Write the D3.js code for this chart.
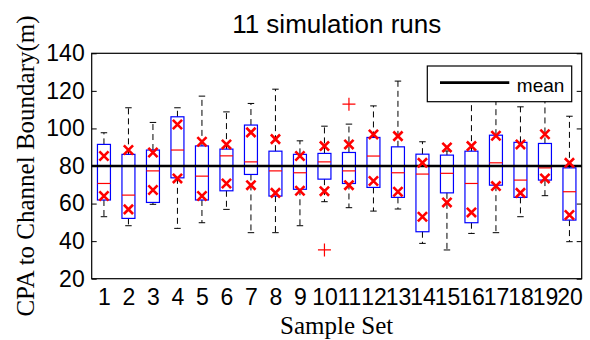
<!DOCTYPE html>
<html>
<head>
<meta charset="utf-8">
<script src="https://cdn.jsdelivr.net/npm/d3@7"></script>
<style>
  body { margin: 0; background: #fff; }
  svg { display: block; }
</style>
</head>
<body>
<div id="chart"></div>
<script>
// sample sets 1..20
var runs = ["1","2","3","4","5","6","7","8","9","10","11","12","13","14","15","16","17","18","19","20"];
var whiskerHi = [97.7, 111, 103.2, 111, 117.2, 108.8, 113.3, 120.9, 93.4, 101.2, 102.3, 112, 125.2, 92.9, 88, 120, 118, 111.5, 116, 106.5];
var q3 = [91.5, 86.2, 88.5, 106.2, 90.7, 89, 101.8, 87.9, 86.2, 86.7, 87.2, 95.2, 90.2, 86.3, 85.8, 87.9, 96.4, 92.6, 92, 79];
var medians = [70.7, 64.5, 77.4, 88.5, 74.6, 85.4, 82.2, 77.4, 76.4, 82.2, 77.4, 85.3, 76.4, 75.7, 76.1, 70.7, 81.7, 72.5, 79, 66.3];
var q1 = [61.9, 52.1, 60.6, 73.7, 61.9, 66.8, 75.5, 64, 67.6, 73, 70.7, 68.6, 63.3, 45, 65.7, 49.8, 69.8, 63.3, 72.5, 51.2];
var whiskerLo = [53, 48.2, 59.6, 46.8, 49.8, 56.9, 44.5, 44.5, 48.2, 61, 57.8, 56, 57.1, 38.8, 35.3, 44.1, 44.5, 53, 64.2, 39.7];
// red x markers above / below
var markHi = [85.3, 88.5, 87.2, 102.1, 92.9, 91.5, 97.9, 94.3, 85.3, 90.6, 91.5, 96.8, 95.9, 81.7, 89.9, 90.6, 96.1, 91.5, 96.9, 81.7];
var markLo = [64, 56.9, 67.2, 73.4, 64, 70.7, 69.8, 65.7, 66.8, 66.6, 69.8, 72, 66.3, 53, 60.6, 55.3, 69.3, 65.7, 73.4, 53.9];
var outlierRun = [10, 11];
var outlierValue = [35.3, 112.9];
var meanValue = 80;
var yTicks = [20, 40, 60, 80, 100, 120, 140];

var width = 590, height = 340;
var margin = {top: 53.3, right: 8.3, bottom: 61.3, left: 91.7};

var svg = d3.select('#chart').append('svg').attr('width', width).attr('height', height);

var x = d3.scaleLinear().domain([0.5, 20.5]).range([margin.left, width - margin.right]);
var y = d3.scaleLinear().domain([20, 140]).range([height - margin.bottom, margin.top]);

var sans = "'Liberation Sans', Arial, sans-serif";
var serif = "'Liberation Serif', 'Times New Roman', serif";

// axes
var gl = svg.append('g').attr('transform', 'translate(' + margin.left + ',0)')
  .call(d3.axisLeft(y).tickValues(yTicks).tickSize(-5).tickPadding(7));
var gr = svg.append('g').attr('transform', 'translate(' + (width - margin.right) + ',0)')
  .call(d3.axisRight(y).tickValues(yTicks).tickSize(-5).tickFormat(''));
var gb = svg.append('g').attr('transform', 'translate(0,' + (height - margin.bottom) + ')')
  .call(d3.axisBottom(x).tickValues(d3.range(1, 21)).tickSize(0).tickPadding(10).tickFormat(function(d){ return runs[d-1]; }));
[gl, gr, gb].forEach(function(g){
  g.select('.domain').remove();
  g.selectAll('line').attr('stroke', '#000');
  g.selectAll('text').attr('fill', '#000').style('font-family', sans).style('font-size', '23px');
});
gr.selectAll('text').remove();

// frame
svg.append('rect')
  .attr('x', margin.left).attr('y', margin.top)
  .attr('width', width - margin.left - margin.right)
  .attr('height', height - margin.top - margin.bottom)
  .attr('fill', 'none').attr('stroke', '#000').attr('stroke-width', 1.2);

var boxW = (x(1) - x(0)) * 0.53;
var idx = d3.range(runs.length);

// whiskers
var wg = svg.append('g');
wg.selectAll('line.up').data(idx).enter().append('line')
  .attr('x1', function(i){ return x(i+1); }).attr('x2', function(i){ return x(i+1); })
  .attr('y1', function(i){ return y(q3[i]); }).attr('y2', function(i){ return y(whiskerHi[i]); })
  .attr('stroke', '#000').attr('stroke-dasharray', '6,4');
wg.selectAll('line.lo').data(idx).enter().append('line')
  .attr('x1', function(i){ return x(i+1); }).attr('x2', function(i){ return x(i+1); })
  .attr('y1', function(i){ return y(q1[i]); }).attr('y2', function(i){ return y(whiskerLo[i]); })
  .attr('stroke', '#000').attr('stroke-dasharray', '6,4');
wg.selectAll('line.capHi').data(idx).enter().append('line')
  .attr('x1', function(i){ return x(i+1) - boxW/4; }).attr('x2', function(i){ return x(i+1) + boxW/4; })
  .attr('y1', function(i){ return y(whiskerHi[i]); }).attr('y2', function(i){ return y(whiskerHi[i]); })
  .attr('stroke', '#000');
wg.selectAll('line.capLo').data(idx).enter().append('line')
  .attr('x1', function(i){ return x(i+1) - boxW/4; }).attr('x2', function(i){ return x(i+1) + boxW/4; })
  .attr('y1', function(i){ return y(whiskerLo[i]); }).attr('y2', function(i){ return y(whiskerLo[i]); })
  .attr('stroke', '#000');

// boxes
svg.append('g').selectAll('rect').data(idx).enter().append('rect')
  .attr('x', function(i){ return x(i+1) - boxW/2; })
  .attr('y', function(i){ return y(q3[i]); })
  .attr('width', boxW)
  .attr('height', function(i){ return y(q1[i]) - y(q3[i]); })
  .attr('fill', 'none').attr('stroke', '#0000ff').attr('stroke-width', 1.2);

// medians
svg.append('g').selectAll('line').data(idx).enter().append('line')
  .attr('x1', function(i){ return x(i+1) - boxW/2; }).attr('x2', function(i){ return x(i+1) + boxW/2; })
  .attr('y1', function(i){ return y(medians[i]); }).attr('y2', function(i){ return y(medians[i]); })
  .attr('stroke', '#ff0000').attr('stroke-width', 1.2);

// mean line
svg.append('line')
  .attr('x1', x(0.5)).attr('x2', x(20.5))
  .attr('y1', y(meanValue)).attr('y2', y(meanValue))
  .attr('stroke', '#000').attr('stroke-width', 2.7);

// outliers (+)
var cross = d3.symbol().type(d3.symbolCross);
svg.append('g').selectAll('path').data(outlierRun).enter().append('path')
  .attr('d', function(){ var s = 6.5; return 'M' + (-s) + ',0H' + s + 'M0,' + (-s) + 'V' + s; })
  .attr('transform', function(r, i){ return 'translate(' + x(r) + ',' + y(outlierValue[i]) + ')'; })
  .attr('stroke', '#ff0000').attr('stroke-width', 1.2).attr('fill', 'none');

// x markers
var xPath = function(){ var s = 4.6; return 'M' + (-s) + ',' + (-s) + 'L' + s + ',' + s + 'M' + (-s) + ',' + s + 'L' + s + ',' + (-s); };
var mg = svg.append('g');
mg.selectAll('path.hi').data(idx).enter().append('path')
  .attr('d', xPath)
  .attr('transform', function(i){ return 'translate(' + x(i+1) + ',' + y(markHi[i]) + ')'; })
  .attr('stroke', '#ff0000').attr('stroke-width', 2.6).attr('fill', 'none');
mg.selectAll('path.lo').data(idx).enter().append('path')
  .attr('d', xPath)
  .attr('transform', function(i){ return 'translate(' + x(i+1) + ',' + y(markLo[i]) + ')'; })
  .attr('stroke', '#ff0000').attr('stroke-width', 2.6).attr('fill', 'none');

// legend
var lg = svg.append('g').attr('transform', 'translate(427.3,66)');
lg.append('rect').attr('width', 144.4).attr('height', 35.7)
  .attr('fill', '#fff').attr('stroke', '#000').attr('stroke-width', 1.2);
lg.append('line').attr('x1', 12.7).attr('x2', 82).attr('y1', 16.7).attr('y2', 16.7)
  .attr('stroke', '#000').attr('stroke-width', 2.7);
lg.append('text').attr('x', 89.5).attr('y', 25.7).text('mean')
  .style('font-family', sans).style('font-size', '19px').attr('fill', '#000');

// title and labels
svg.append('text').attr('x', (x(0.5) + x(20.5)) / 2).attr('y', 33)
  .attr('text-anchor', 'middle').text('11 simulation runs')
  .style('font-family', sans).style('font-size', '26px');
svg.append('text').attr('x', (x(0.5) + x(20.5)) / 2).attr('y', 334)
  .attr('text-anchor', 'middle').text('Sample Set')
  .style('font-family', serif).style('font-size', '25px');
svg.append('text')
  .attr('transform', 'translate(33.5,' + ((y(20) + y(140)) / 2) + ') rotate(-90)')
  .attr('text-anchor', 'middle').text('CPA to Channel Boundary(m)')
  .style('font-family', serif).style('font-size', '25px');
</script>
</body>
</html>
